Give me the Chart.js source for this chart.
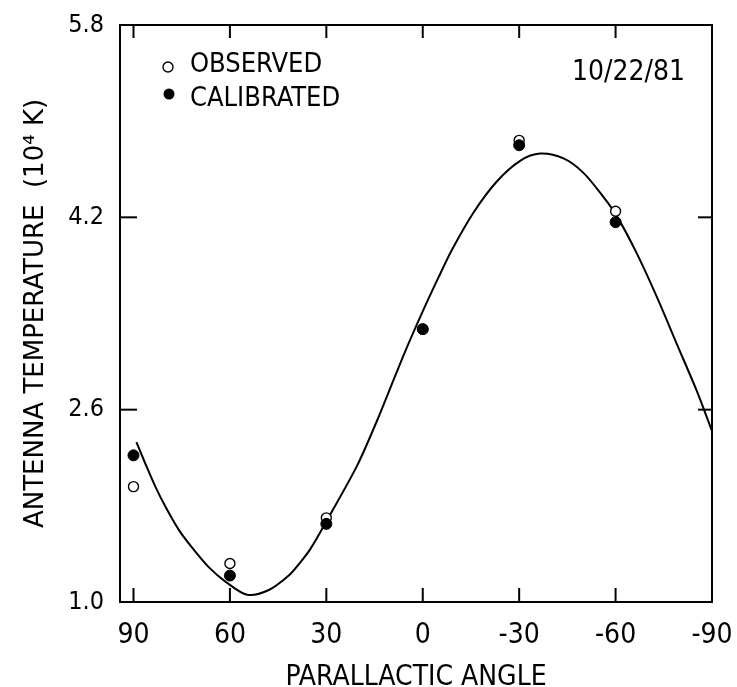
<!DOCTYPE html>
<html>
<head>
<meta charset="utf-8">
<script src="https://cdn.jsdelivr.net/npm/chart.js@4.4.1/dist/chart.umd.min.js"></script>
<style>
html, body { margin: 0; padding: 0; background: #fff; }
</style>
</head>
<body>
<canvas id="mychart" width="737" height="687"></canvas>
<script>
// measured points (parallactic angle, antenna temperature in 10^4 K)
var angleObs = [90, 60, 30, 0, -30, -60];
var tempObserved = [1.96, 1.32, 1.70, 3.27, 4.84, 4.25];
var tempCalibrated = [2.22, 1.22, 1.65, 3.27, 4.80, 4.16];

// fitted curve
var fitAngle = [89.1, 86.3, 83.2, 80.0, 75.9, 71.7, 66.6, 61.4, 54.6, 47.9, 41.7, 38.1, 35.0, 29.8, 20.5, 14.2, 10.1, 4.9, -0.2, -4.9, -9.1, -15.8, -23.1, -30.3, -36.5, -43.8, -50.0, -56.2, -60.4, -66.6, -72.8, -79.0, -85.2, -89.9];
var fitTemp = [2.33, 2.15, 1.96, 1.79, 1.60, 1.45, 1.29, 1.17, 1.06, 1.10, 1.22, 1.33, 1.44, 1.68, 2.13, 2.51, 2.78, 3.12, 3.43, 3.70, 3.93, 4.24, 4.50, 4.67, 4.73, 4.69, 4.57, 4.37, 4.21, 3.90, 3.54, 3.15, 2.76, 2.43];

var xTicks = [90, 60, 30, 0, -30, -60, -90];
var yTicks = [1.0, 2.6, 4.2, 5.8];

var seriesNames = ['OBSERVED', 'CALIBRATED'];
var dateText = '10/22/81';

var FONT = "'DejaVu Sans Condensed', 'DejaVu Sans', sans-serif";

function toXY(xs, ys) {
	var out = [];
	for (var i = 0; i < xs.length; i++) out.push({ x: xs[i], y: ys[i] });
	return out;
}

// frame, inward ticks, legend and date
const framePlugin = {
	id: 'frame',
	afterDatasetsDraw(chart) {
		const ctx = chart.ctx;
		const a = chart.chartArea;
		const sx = chart.scales.x;
		const sy = chart.scales.y;
		ctx.save();
		ctx.strokeStyle = '#000';
		ctx.lineWidth = 2;
		ctx.strokeRect(a.left, a.top, a.right - a.left, a.bottom - a.top);

		function seg(x1, y1, x2, y2) {
			ctx.beginPath();
			ctx.moveTo(x1, y1);
			ctx.lineTo(x2, y2);
			ctx.stroke();
		}
		xTicks.forEach(function (v) {
			const px = sx.getPixelForValue(v);
			if (Math.abs(px - a.right) < 3 || Math.abs(px - a.left) < 3) return;
			seg(px, a.bottom, px, a.bottom - 14);
			seg(px, a.top, px, a.top + 13);
		});
		yTicks.forEach(function (v) {
			const py = sy.getPixelForValue(v);
			if (Math.abs(py - a.top) < 3 || Math.abs(py - a.bottom) < 3) return;
			seg(a.left, py, a.left + 17, py);
			seg(a.right, py, a.right - 14, py);
		});

		// legend
		ctx.lineWidth = 1.4;
		ctx.beginPath();
		ctx.arc(a.left + 48, a.top + 42, 5, 0, Math.PI * 2);
		ctx.fillStyle = '#fff';
		ctx.fill();
		ctx.stroke();
		ctx.beginPath();
		ctx.arc(a.left + 49, a.top + 69, 5.5, 0, Math.PI * 2);
		ctx.fillStyle = '#000';
		ctx.fill();

		ctx.fillStyle = '#000';
		ctx.font = '27px ' + FONT;
		ctx.textBaseline = 'middle';
		ctx.textAlign = 'left';
		ctx.fillText(seriesNames[0], a.left + 70, a.top + 40);
		ctx.fillText(seriesNames[1], a.left + 70, a.top + 74);

		ctx.font = '28px ' + FONT;
		ctx.textAlign = 'right';
		ctx.fillText(dateText, a.right - 27, a.top + 48);
		ctx.restore();
	}
};

const data = {
	datasets: [
		{
			label: seriesNames[1],
			data: toXY(angleObs, tempCalibrated),
			pointRadius: 5.5,
			pointBackgroundColor: '#000',
			pointBorderColor: '#000',
			pointBorderWidth: 1,
			showLine: false,
			order: 0
		},
		{
			label: seriesNames[0],
			data: toXY(angleObs, tempObserved),
			pointRadius: 5,
			pointBackgroundColor: '#fff',
			pointBorderColor: '#000',
			pointBorderWidth: 1.4,
			showLine: false,
			order: 1
		},
		{
			label: 'fit',
			data: toXY(fitAngle, fitTemp),
			showLine: true,
			borderColor: '#000',
			borderWidth: 2,
			pointRadius: 0,
			tension: 0.3,
			fill: false,
			order: 2
		}
	]
};

const config = {
	type: 'scatter',
	data: data,
	plugins: [framePlugin],
	options: {
		responsive: false,
		animation: false,
		devicePixelRatio: 1,
		layout: {
			autoPadding: false,
			padding: { top: 25, right: 25, left: 0, bottom: 0 }
		},
		plugins: {
			legend: { display: false },
			tooltip: { enabled: false }
		},
		scales: {
			x: {
				type: 'linear',
				position: 'bottom',
				reverse: true,
				min: -90,
				max: 94.2,
				afterBuildTicks: function (s) {
					s.ticks = xTicks.map(function (v) { return { value: v }; });
				},
				afterFit: function (s) {
					s.height = 85;
					s.paddingLeft = 0;
					s.paddingRight = 0;
				},
				grid: { display: false, drawTicks: false },
				border: { display: false },
				ticks: {
					color: '#000',
					padding: 17,
					maxRotation: 0,
					autoSkip: false,
					font: { family: FONT, size: 28 },
					callback: function (v) { return String(v); }
				},
				title: {
					display: true,
					text: 'PARALLACTIC ANGLE',
					color: '#000',
					padding: 0,
					font: { family: FONT, size: 28, lineHeight: 0.65 }
				}
			},
			y: {
				type: 'linear',
				min: 1.0,
				max: 5.8,
				afterBuildTicks: function (s) {
					s.ticks = yTicks.map(function (v) { return { value: v }; });
				},
				afterFit: function (s) {
					s.width = 120;
					s.paddingTop = 0;
					s.paddingBottom = 0;
				},
				grid: { display: false, drawTicks: false },
				border: { display: false },
				ticks: {
					color: '#000',
					padding: 16,
					font: { family: FONT, size: 25 },
					callback: function (v) { return Number(v).toFixed(1); }
				},
				title: {
					display: true,
					text: 'ANTENNA TEMPERATURE  (10\u2074 K)',
					color: '#000',
					padding: { top: 21, bottom: 0 },
					font: { family: "'DejaVu Sans', sans-serif", size: 26 }
				}
			}
		}
	}
};

const myChart = new Chart(document.getElementById('mychart').getContext('2d'), config);
</script>
</body>
</html>
